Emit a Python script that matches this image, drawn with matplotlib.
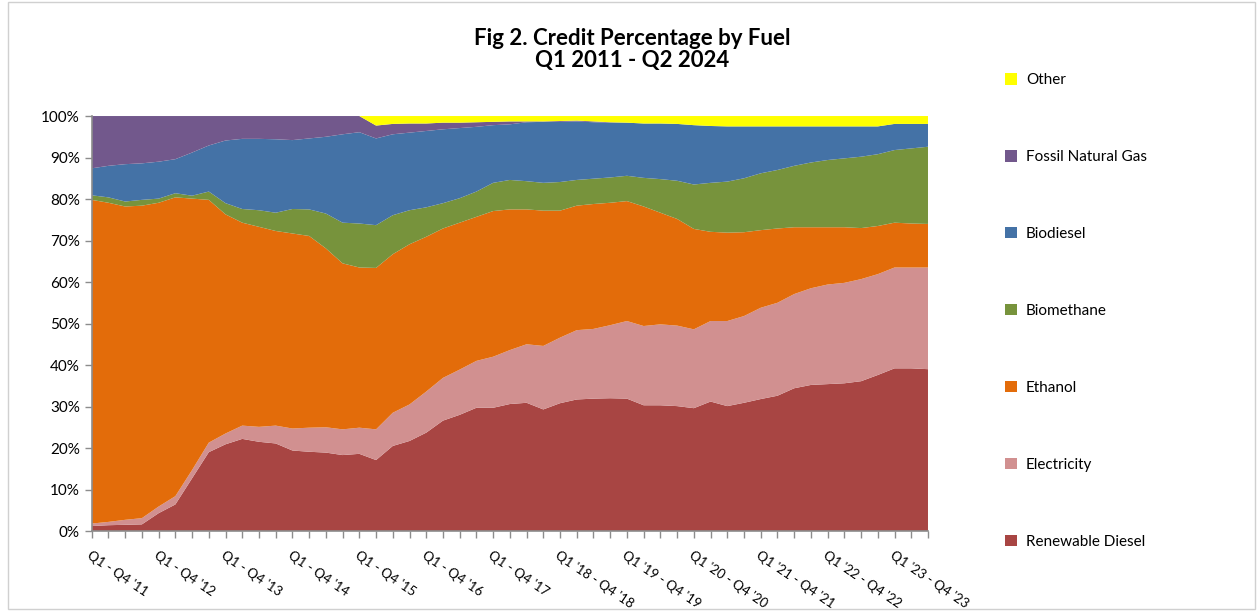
import numpy as np
import matplotlib.pyplot as plt
from matplotlib.ticker import PercentFormatter
from matplotlib.patches import Rectangle

plt.rcParams['font.family'] = ['Lato', 'DejaVu Sans']

# share of credits by fuel (%), one value per reporting period
renewable_diesel = [1.2, 1.4, 1.5, 1.6, 4.3, 6.4, 12.7, 19.0, 20.9, 22.2, 21.5, 21.1, 19.4,
                    19.1, 18.9, 18.3, 18.6, 17.1, 20.5, 21.7, 23.7, 26.6, 28.0, 29.7, 29.7, 30.6,
                    30.9, 29.3, 30.8, 31.7, 31.9, 32.0, 31.9, 30.3, 30.3, 30.1, 29.6, 31.2,
                    30.1, 30.9, 31.8, 32.6, 34.4, 35.2, 35.4, 35.6, 36.1, 37.6, 39.2, 39.2, 39.0]
electricity = [0.6, 0.8, 1.2, 1.5, 1.6, 2.0, 2.0, 2.3, 2.6, 3.2, 3.6, 4.3, 5.3,
               5.8, 6.1, 6.2, 6.3, 7.4, 8.0, 8.8, 9.9, 10.3, 10.9, 11.3, 12.3, 13.0,
               14.1, 15.3, 15.8, 16.7, 16.8, 17.6, 18.7, 19.1, 19.5, 19.4, 19.0, 19.4,
               20.5, 20.9, 22.0, 22.4, 22.7, 23.3, 24.0, 24.2, 24.6, 24.3, 24.3, 24.3, 24.5]
ethanol = [78.0, 76.9, 75.5, 75.3, 73.2, 72.0, 65.4, 58.5, 52.8, 48.9, 48.2, 46.9, 47.0,
           46.2, 43.1, 40.0, 38.6, 38.9, 38.2, 38.6, 37.3, 36.0, 35.4, 34.7, 35.1, 33.9,
           32.5, 32.6, 30.6, 30.0, 30.1, 29.5, 28.9, 28.8, 26.9, 25.7, 24.2, 21.5,
           21.3, 20.2, 18.7, 17.9, 16.1, 14.7, 13.8, 13.4, 12.3, 11.6, 10.8, 10.6, 10.5]
biomethane = [1.1, 1.3, 1.2, 1.4, 1.0, 1.0, 0.7, 2.0, 2.7, 3.3, 4.0, 4.4, 5.9,
              6.4, 8.4, 9.8, 10.6, 10.3, 9.4, 8.2, 7.1, 6.1, 5.9, 6.1, 6.8, 7.1,
              6.8, 6.7, 6.9, 6.2, 6.1, 6.1, 6.1, 6.9, 8.1, 9.2, 10.7, 11.8,
              12.3, 13.0, 13.7, 14.1, 14.8, 15.6, 16.2, 16.6, 17.2, 17.3, 17.5, 18.1, 18.6]
biodiesel = [6.5, 7.6, 9.0, 8.8, 8.9, 8.2, 10.4, 11.1, 15.1, 16.9, 17.2, 17.7, 16.6,
             17.1, 18.5, 21.3, 22.0, 20.9, 19.5, 18.7, 18.4, 17.8, 16.9, 15.6, 13.9, 13.4,
             14.2, 14.7, 14.5, 14.1, 13.6, 13.2, 12.8, 13.1, 13.4, 13.7, 14.3, 13.7,
             13.3, 12.5, 11.3, 10.5, 9.5, 8.7, 8.1, 7.7, 7.3, 6.7, 6.3, 5.9, 5.5]
fossil_gas = [12.6, 12.0, 11.6, 11.4, 11.0, 10.4, 8.8, 7.1, 5.9, 5.5, 5.5, 5.6, 5.8,
              5.4, 5.0, 4.4, 3.9, 3.1, 2.5, 2.2, 1.8, 1.6, 1.3, 1.1, 0.8, 0.7,
              0.2, 0.1, 0.2, 0.2, 0.2, 0.1, 0.0, 0.0, 0.0, 0.0, 0.0, 0.0,
              0.0, 0.0, 0.0, 0.0, 0.0, 0.0, 0.0, 0.0, 0.0, 0.0, 0.0, 0.0, 0.0]
other = [0.0, 0.0, 0.0, 0.0, 0.0, 0.0, 0.0, 0.0, 0.0, 0.0, 0.0, 0.0, 0.0,
         0.0, 0.0, 0.0, 0.0, 2.3, 1.9, 1.8, 1.8, 1.6, 1.6, 1.5, 1.4, 1.3,
         1.3, 1.3, 1.2, 1.1, 1.3, 1.5, 1.6, 1.8, 1.8, 1.9, 2.2, 2.4,
         2.5, 2.5, 2.5, 2.5, 2.5, 2.5, 2.5, 2.5, 2.5, 2.5, 1.9, 1.9, 1.9]

fuels = ["Renewable Diesel", "Electricity", "Ethanol", "Biomethane",
         "Biodiesel", "Fossil Natural Gas", "Other"]
colors = ["#A84543", "#D19090", "#E36C0A", "#77933C", "#4472A6", "#72588C", "#FFFF00"]

year_labels = ["Q1 - Q4 '11", "Q1 - Q4 '12", "Q1 - Q4 '13", "Q1 - Q4 '14", "Q1 - Q4 '15",
               "Q1 - Q4 '16", "Q1 - Q4 '17", "Q1 '18 - Q4 '18", "Q1 '19 - Q4 '19",
               "Q1 '20 - Q4 '20", "Q1 '21 - Q4 '21", "Q1 '22 - Q4 '22", "Q1 '23 - Q4 '23"]

series = np.array([renewable_diesel, electricity, ethanol, biomethane,
                   biodiesel, fossil_gas, other]) / 100
x = np.arange(series.shape[1])

fig = plt.figure(figsize=(12.6, 6.11), dpi=100)
ax = fig.add_axes([0.0728, 0.1309, 0.6637, 0.6792])

ax.stackplot(x, series, colors=colors, labels=fuels, linewidth=0)

ax.set_xlim(0, len(x) - 1)
ax.set_ylim(0, 1)
ax.yaxis.set_major_locator(plt.MultipleLocator(0.1))
ax.yaxis.set_major_formatter(PercentFormatter(1.0, decimals=0))

ticklabels = [""] * len(x)
for k, lab in enumerate(year_labels):
    ticklabels[4 * k] = lab
ax.set_xticks(x)
ax.set_xticklabels(ticklabels, rotation=-34, ha="left", va="top",
                   rotation_mode="anchor", fontsize=9.5)

for side in ["top", "right"]:
    ax.spines[side].set_visible(False)
for side in ["left", "bottom"]:
    ax.spines[side].set_color("#8c8c8c")
    ax.spines[side].set_linewidth(1.2)
ax.tick_params(axis="both", colors="#8c8c8c", length=5, width=1, labelcolor="black")
ax.tick_params(axis="y", labelsize=11)
ax.tick_params(axis="x", pad=8)

fig.text(0.502, 0.919, "Fig 2. Credit Percentage by Fuel\nQ1 2011 - Q2 2024",
         ha="center", va="center", fontsize=16, fontweight="bold", linespacing=1.08)

h, l = ax.get_legend_handles_labels()
fig.legend(h[::-1], l[::-1], loc="upper left", bbox_to_anchor=(0.798, 0.88),
           frameon=False, fontsize=11, handlelength=0.75, handleheight=0.75,
           handletextpad=0.6, labelspacing=4.12, borderaxespad=0, borderpad=0)

fig.patches.append(Rectangle((0.006, 0.003), 0.99, 0.994, transform=fig.transFigure,
                             fill=False, edgecolor="#d0d0d0", linewidth=1))

fig.savefig("out.png", dpi=100)
